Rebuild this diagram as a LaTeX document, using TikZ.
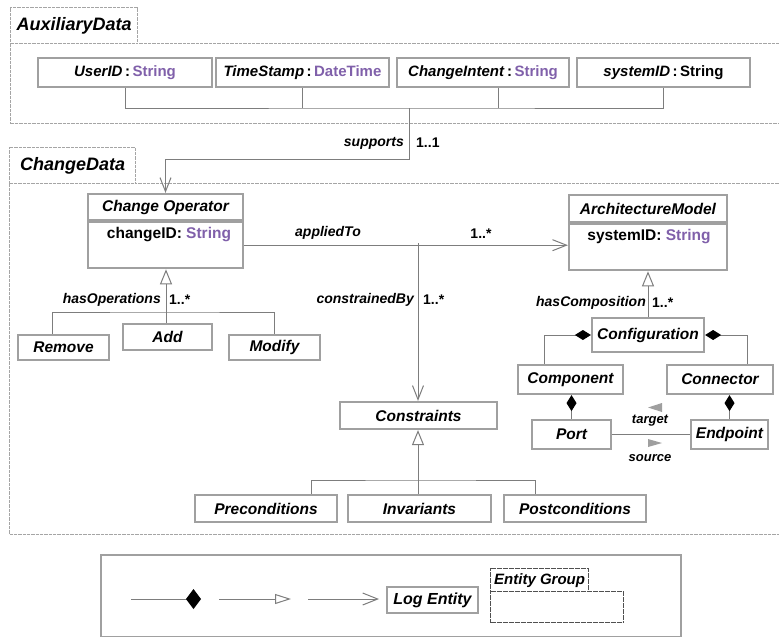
\documentclass[tikz,border=0pt]{standalone}
\usepackage{fontspec}
\setmainfont{Liberation Sans}
\usetikzlibrary{arrows.meta}
\definecolor{typepurple}{RGB}{128,96,170}
\definecolor{boxgray}{RGB}{160,160,160}
\definecolor{linegray}{RGB}{125,125,125}
\definecolor{pkggray}{RGB}{165,165,165}
\definecolor{grpgray}{RGB}{80,80,80}
\newcommand{\pxsize}[1]{\fontsize{#1}{#1}\selectfont}
\newcommand{\ty}[1]{\textcolor{typepurple}{#1}}
\begin{document}
\begin{tikzpicture}[x=1pt,y=-1pt,
  classbox/.style={draw=boxgray, line width=2.2pt, fill=white, inner sep=0pt,
    font=\pxsize{15.5}\bfseries\itshape},
  attrbox/.style={draw=boxgray, line width=2.2pt, fill=white, inner sep=0pt,
    font=\pxsize{15}\bfseries},
  attrtext/.style={inner sep=0pt, font=\pxsize{15.5}\bfseries},
  conn/.style={draw=linegray, line width=1pt},
  assoc/.style={conn, -{Straight Barb[length=14pt,width=11pt]}},
  gen/.style={conn, -{Triangle[open,length=15pt,width=12pt,fill=white]}},
  compo/.style={conn, -{Diamond[length=16pt,width=10pt,fill=black,color=black]}},
  role/.style={inner sep=0pt, font=\pxsize{14}\bfseries\itshape},
  mult/.style={inner sep=0pt, font=\pxsize{14}\bfseries},
  small/.style={inner sep=0pt, font=\pxsize{13}\bfseries\itshape},
  pkgline/.style={draw=pkggray, line width=1.4pt, dash pattern=on 0.8pt off 0.5pt},
  pkgtab/.style={pkgline, fill=white, inner sep=0pt, anchor=north west,
    font=\pxsize{18}\bfseries\itshape},
  pkgbody/.style={pkgline, inner sep=0pt, anchor=north west},
  grptab/.style={draw=grpgray, line width=1.3pt, dash pattern=on 0.7pt off 0.5pt,
    fill=white, inner sep=0pt, anchor=north west, font=\pxsize{15}\bfseries\itshape},
]
\useasboundingbox (0,0) rectangle (779,637);

% ---------------- AuxiliaryData package ----------------
\node[pkgbody, minimum width=790, minimum height=80] (auxbody) at (10,43) {};
\node[pkgtab, minimum width=127, minimum height=36] (auxtab) at (10,7) {AuxiliaryData};

\node[attrbox, minimum width=174, minimum height=29] (uid) at (125,72.5)
  {\textit{UserID}\,:\,\ty{String}};
\node[attrbox, minimum width=173, minimum height=29] (ts) at (302.5,72.5)
  {\textit{TimeStamp}\,:\,\ty{DateTime}};
\node[attrbox, minimum width=172, minimum height=29] (ci) at (483,72.5)
  {\textit{ChangeIntent}\,:\,\ty{String}};
\node[attrbox, minimum width=173, minimum height=29] (sid) at (663.5,72.5)
  {\textit{systemID}\,:\,String};

\coordinate (bus) at (409,108);
\coordinate (suppt) at (409,159);
\draw[conn] (uid.south) |- (bus) -| (sid.south);
\draw[conn] (ts.south) -- (ts.south |- bus);
\draw[conn] ([xshift=15pt]ci.south) -- ([xshift=15pt]ci.south |- bus);

% ---------------- ChangeData package ----------------
\node[pkgbody, minimum width=791, minimum height=351] (chgbody) at (9,183) {};
\node[pkgtab, minimum width=126, minimum height=36] (chgtab) at (9,147) {ChangeData};

% Change Operator class
\node[classbox, minimum width=155, minimum height=26] (co) at (165.5,207) {Change Operator};
\node[attrbox, minimum width=155, minimum height=46, anchor=north] (coattr) at (co.south) {};
\node[attrtext] (coid) at (169,235) {changeID: \ty{String}};

% supports association
\draw[assoc] (bus) -- (suppt) -| (co.north);
\node[role, anchor=east] (suplbl) at (404,143) {supports};
\node[mult, anchor=west] (supmul) at (416,143) {1..1};

% operation subclasses
\node[classbox, minimum width=91, minimum height=25] (remove) at (63.5,347.5) {Remove};
\node[classbox, minimum width=89, minimum height=26] (add) at (167.5,337) {Add};
\node[classbox, minimum width=91, minimum height=25] (modify) at (274.5,347.5) {Modify};
\coordinate (opbus) at (166,312);
\draw[conn] ([xshift=-11.5pt]remove.north) |- (opbus) -| (modify.north);
\draw[gen] (opbus |- add.north) -- (opbus |- coattr.south);
\node[role, anchor=east] (hasop) at (161,300) {hasOperations};
\node[mult, anchor=west] (hasopm) at (169,300) {1..*};

% ArchitectureModel class
\node[classbox, minimum width=158, minimum height=27] (am) at (648,208.5) {ArchitectureModel};
\node[attrbox, minimum width=158, minimum height=46, anchor=north] (amattr) at (am.south) {};
\node[attrtext] (amid) at (649,237) {systemID: \ty{String}};

% appliedTo / constrainedBy
\draw[assoc] (coattr.east) -- (coattr.east -| amattr.west);
\coordinate (cbj) at (418,243);
\node[role] (applbl) at (328,233) {appliedTo};
\node[mult] (appmul) at (481,234) {1..*};

\node[classbox, minimum width=157, minimum height=27] (cons) at (418.5,415.5) {Constraints};
\draw[assoc] (cbj) -- (cbj |- cons.north);
\node[role, anchor=east] (cblbl) at (414,300) {constrainedBy};
\node[mult, anchor=west] (cbmul) at (423,300) {1..*};

% constraint subclasses
\node[classbox, minimum width=142, minimum height=27] (pre) at (266,508.5) {Preconditions};
\node[classbox, minimum width=143, minimum height=27] (inv) at (419.5,508.5) {Invariants};
\node[classbox, minimum width=142, minimum height=27] (post) at (575,508.5) {Postconditions};
\coordinate (cbus) at (418,480);
\draw[conn] ([xshift=45pt]pre.north) |- (cbus) -| ([xshift=-40pt]post.north);
\draw[gen] (cbus |- inv.north) -- (cbus |- cons.south);

% configuration hierarchy
\node[classbox, minimum width=112, minimum height=34] (conf) at (648,335) {Configuration};
\draw[gen] (conf.north) -- (conf.north |- amattr.south);
\node[role, anchor=east] (hascomp) at (646,303) {hasComposition};
\node[mult, anchor=west] (hascompm) at (652,303) {1..*};

\node[classbox, minimum width=105, minimum height=29] (comp) at (570.5,379.5) {Component};
\node[classbox, minimum width=106, minimum height=29] (conr) at (720,379.5) {Connector};
\draw[compo] ([xshift=-26.5pt]comp.north) |- (conf.west);
\draw[compo] ([xshift=27pt]conr.north) |- (conf.east);

\node[classbox, minimum width=79, minimum height=29] (port) at (571.5,434.5) {Port};
\node[classbox, minimum width=77, minimum height=29] (endp) at (729.5,434.5) {Endpoint};
\draw[compo] (port.north) -- (port.north |- comp.south);
\draw[compo] (endp.north) -- (endp.north |- conr.south);
\draw[conn] (port.east) -- (endp.west);

\node[small] (tgt) at (650,421) {target};
\node[small] (src) at (650,458) {source};
\fill[gray!75] (662,403) -- (648,407.5) -- (662,412) -- cycle;
\fill[gray!75] (648,439) -- (662,443) -- (648,447) -- cycle;

% ---------------- notation key ----------------
\node[draw=boxgray, line width=1.5pt, inner sep=0pt, anchor=north west,
  minimum width=580, minimum height=82] (key) at (100,554) {};
\coordinate (k1a) at (131,599);
\coordinate (k1b) at (201,599);
\coordinate (k2a) at (219,599);
\coordinate (k2b) at (291,599);
\coordinate (k3a) at (308,599);
\coordinate (k3b) at (379,599);
\draw[conn, -{Diamond[length=15pt,width=20pt,fill=black,color=black]}] (k1a) -- (k1b);
\draw[conn, -{Triangle[open,length=16pt,width=10pt,fill=white]}] (k2a) -- (k2b);
\draw[conn, -{Straight Barb[length=15pt,width=12pt]}] (k3a) -- (k3b);
\node[classbox, minimum width=91, minimum height=26, font=\pxsize{16}\bfseries\itshape]
  (logent) at (432.5,600) {Log Entity};
\node[grptab, minimum width=133, minimum height=31] (grpbody) at (490,591) {};
\node[grptab, minimum width=98, minimum height=23] (grptab) at (490,568) {Entity Group};

\end{tikzpicture}
\end{document}
